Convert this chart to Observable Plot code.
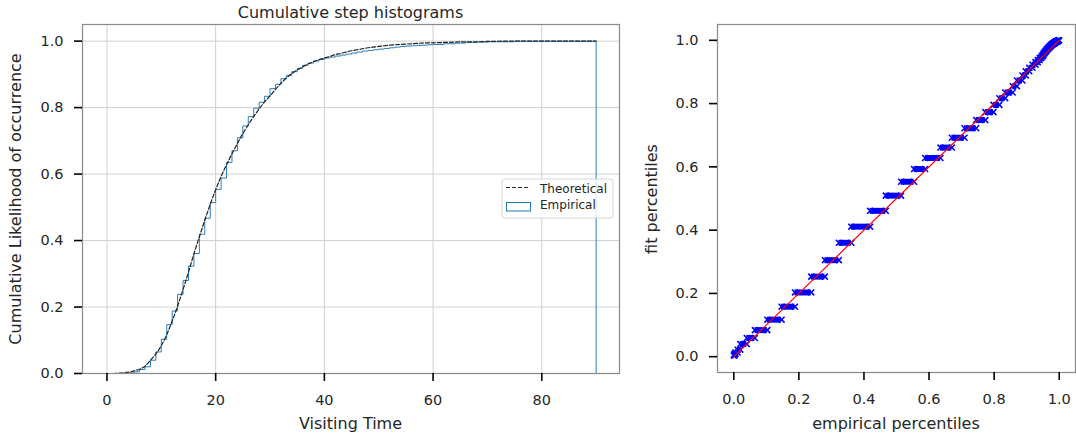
<!DOCTYPE html>
<html><head><meta charset="utf-8">
<script src="https://cdn.jsdelivr.net/npm/d3@7"></script>
<script src="https://cdn.jsdelivr.net/npm/@observablehq/plot@0.6"></script>
<style>
body{margin:0;background:#fff;}
#wrap{position:relative;width:1076px;height:440px;overflow:hidden;font-family:"DejaVu Sans",sans-serif;color:#262626;background:#fff;}
.lbl{position:absolute;font-size:16px;line-height:16px;white-space:nowrap;}
#left,#right{position:absolute;top:0;}
#left{left:0px;} #right{left:640px;}
#legend{position:absolute;left:0;top:0;}
</style></head><body>
<div id="wrap">
  <div id="left"></div>
  <div id="right"></div>
  <div class="lbl" style="left:350.5px;top:5px;transform:translateX(-50%);">Cumulative step histograms</div>
  <div class="lbl" style="left:350.5px;top:416px;transform:translateX(-50%);">Visiting Time</div>
  <div class="lbl" style="left:896px;top:416px;transform:translateX(-50%);">empirical percentiles</div>
  <div class="lbl" style="left:16px;top:198.5px;transform:translate(-50%,-50%) rotate(-90deg);">Cumulative Likelihood of occurrence</div>
  <div class="lbl" style="left:652px;top:198.5px;transform:translate(-50%,-50%) rotate(-90deg);">fit percentiles</div>
  <svg id="legend" width="1076" height="440" style="pointer-events:none">
    <rect x="502" y="179" width="111" height="39" rx="3" ry="3" fill="rgba(255,255,255,0.8)" stroke="#d6d6d6" stroke-width="1"/>
    <line x1="506" x2="530" y1="187.5" y2="187.5" stroke="#222" stroke-width="1.2" stroke-dasharray="4,2"/>
    <text x="540" y="192.5" font-family="DejaVu Sans" font-size="12" fill="#262626">Theoretical</text>
    <rect x="506.5" y="202.5" width="24" height="8.5" fill="none" stroke="#1f77b4" stroke-width="1"/>
    <text x="540" y="209" font-family="DejaVu Sans" font-size="12" fill="#262626">Empirical</text>
  </svg>
</div>
<script>
// Visiting time values (integer bins)
const visitTimes = [0,1,2,3,4,5,6,7,8,9,10,11,12,13,14,15,16,17,18,19,20,21,22,23,24,25,26,27,28,29,30,
  31,32,33,34,35,36,37,38,39,40,41,42,43,44,45,46,47,48,49,50,51,52,53,54,55,56,57,58,59,60,
  62,64,66,68,70,75,80,85,90];
// Theoretical (fitted) cumulative probability at each visiting time
const fitCdf = [0.000,0.000,0.001,0.002,0.004,0.008,0.013,0.022,0.040,0.059,0.084,0.117,0.158,0.203,0.253,0.305,
  0.360,0.411,0.461,0.509,0.553,0.593,0.628,0.661,0.692,0.722,0.748,0.773,0.796,0.817,0.835,
  0.855,0.873,0.889,0.902,0.913,0.923,0.931,0.938,0.944,0.949,0.954,0.959,0.963,0.967,0.971,
  0.974,0.977,0.980,0.982,0.984,0.986,0.988,0.989,0.990,0.991,0.992,0.993,0.994,0.995,0.995,
  0.996,0.997,0.998,0.998,0.999,1.000,1.000,1.000,1.000];
// Empirical cumulative fraction at each visiting time
const empCdf = [0.000,0.000,0.000,0.000,0.002,0.005,0.012,0.020,0.040,0.065,0.103,0.147,0.188,0.238,0.280,0.323,
  0.361,0.419,0.467,0.514,0.554,0.588,0.635,0.670,0.709,0.745,0.773,0.798,0.816,0.834,0.857,
  0.870,0.887,0.897,0.908,0.918,0.927,0.934,0.940,0.945,0.949,0.952,0.955,0.958,0.961,0.964,
  0.967,0.970,0.972,0.974,0.976,0.978,0.980,0.982,0.984,0.985,0.986,0.987,0.988,0.989,0.990,
  0.992,0.994,0.996,0.997,0.998,1.000,1.000,1.000,1.000];
// Tick labels
const leftXTicks = [0,20,40,60,80];
const probTicks = [0.0,0.2,0.4,0.6,0.8,1.0];
const diagX = [0,1];
const diagY = [0,1];

const rows = visitTimes.map((t,i)=>({t, fit: fitCdf[i], emp: empCdf[i]}));
const firstIdx = empCdf.findIndex(v => v > 0);
const stepRows = [{t: visitTimes[firstIdx], v: 0},
  ...rows.slice(firstIdx).map(r => ({t: r.t, v: r.emp})),
  {t: visitTimes[visitTimes.length-1], v: 0}];

const clusters = [];
for (let i = 1; i < rows.length; i++) {
  if (empCdf[i] > empCdf[i-1]) clusters.push({y: fitCdf[i], lo: empCdf[i-1], hi: empCdf[i]});
}
const clusterEnds = clusters.flatMap(c => [{x: c.lo, y: c.y}, {x: c.hi, y: c.y}]);
const diag = diagX.map((x,i)=>({x, y: diagY[i]}));
const fmt = d3.format(".1f");
const style = {fontFamily: "DejaVu Sans", fontSize: "14.5px", color: "#262626", background: "transparent"};

const left = Plot.plot({
  width: 640, height: 440,
  marginLeft: 82, marginRight: 21, marginTop: 24, marginBottom: 67,
  style,
  x: {domain: [-4.5, 94.3]},
  y: {domain: [0, 1.05]},
  marks: [
    Plot.gridX(leftXTicks, {stroke: "#d0d0d0", strokeOpacity: 1, strokeWidth: 1}),
    Plot.gridY(probTicks, {stroke: "#d0d0d0", strokeOpacity: 1, strokeWidth: 1}),
    Plot.line(stepRows, {x: "t", y: "v", curve: "step-after", stroke: "#2a7fc0", strokeWidth: 1}),
    Plot.line(rows, {x: "t", y: "fit", curve: "monotone-x", stroke: "#222", strokeWidth: 1.2, strokeDasharray: "4,2"}),
    Plot.frame({stroke: "#8c8c8c", strokeWidth: 1.25}),
    Plot.axisX({ticks: leftXTicks, tickSize: 8, tickPadding: 13, label: null, stroke: "#000", strokeWidth: 1.6}),
    Plot.axisY({ticks: probTicks, tickFormat: fmt, tickSize: 8, tickPadding: 11, label: null, stroke: "#000", strokeWidth: 1.6})
  ]
});
document.getElementById("left").append(left);

const right = Plot.plot({
  width: 436, height: 440,
  marginLeft: 77, marginRight: 1, marginTop: 24, marginBottom: 68,
  style,
  x: {domain: [-0.05, 1.05]},
  y: {domain: [-0.05, 1.05]},
  marks: [
    Plot.ruleY(clusters, {y: "y", x1: "lo", x2: "hi", stroke: "#0000ff", strokeWidth: 6}),
    Plot.dot(clusterEnds, {x: "x", y: "y", symbol: "times", r: 2.8, stroke: "#0000ff", strokeWidth: 1.6}),
    Plot.line(diag, {x: "x", y: "y", stroke: "#ff0000", strokeWidth: 1.2}),
    Plot.frame({stroke: "#8c8c8c", strokeWidth: 1.25}),
    Plot.axisX({ticks: probTicks, tickFormat: fmt, tickSize: 8, tickPadding: 13, label: null, stroke: "#000", strokeWidth: 1.6}),
    Plot.axisY({ticks: probTicks, tickFormat: fmt, tickSize: 8, tickPadding: 11, label: null, stroke: "#000", strokeWidth: 1.6})
  ]
});
document.getElementById("right").append(right);
</script>
</body></html>
